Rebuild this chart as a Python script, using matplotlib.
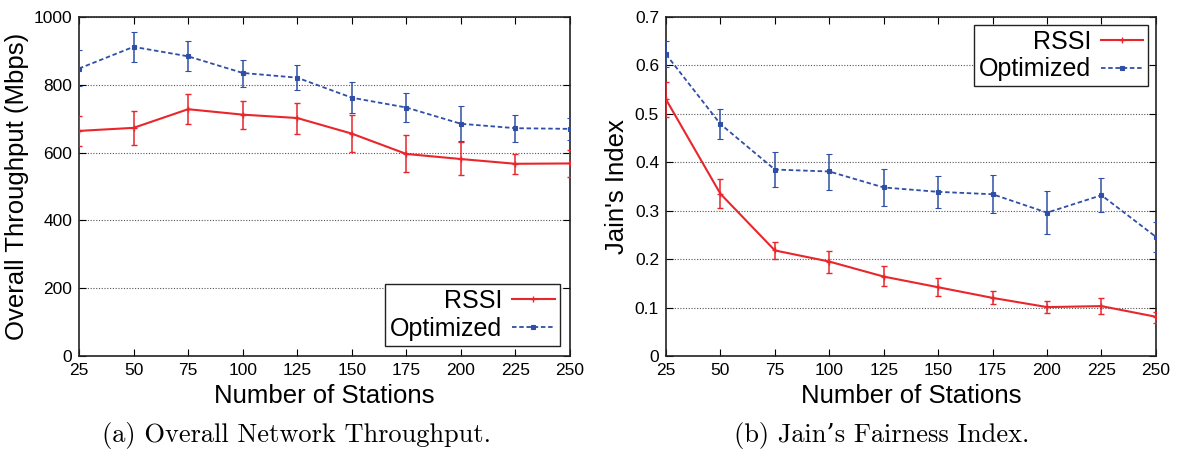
import numpy as np
from matplotlib import pyplot as plt
from matplotlib.lines import Line2D

# number of stations on the x axis
stations = [25, 50, 75, 100, 125, 150, 175, 200, 225, 250]

# (a) overall throughput (Mbps), mean with lower / upper error bar ends
thr_rssi = [664, 673, 728, 712, 702, 656, 596, 581, 567, 568]
thr_rssi_lo = [618, 623, 683, 671, 656, 601, 542, 535, 538, 529]
thr_rssi_hi = [708, 723, 773, 753, 747, 712, 652, 631, 597, 607]
thr_opt = [848, 912, 884, 835, 821, 762, 733, 685, 672, 670]
thr_opt_lo = [795, 867, 840, 794, 785, 716, 690, 633, 632, 638]
thr_opt_hi = [902, 957, 930, 874, 857, 809, 777, 736, 712, 701]

# (b) Jain's fairness index
jfi_rssi = [0.530, 0.335, 0.218, 0.195, 0.164, 0.142, 0.120, 0.101, 0.103, 0.081]
jfi_rssi_lo = [0.493, 0.306, 0.200, 0.171, 0.144, 0.123, 0.107, 0.089, 0.087, 0.069]
jfi_rssi_hi = [0.566, 0.365, 0.236, 0.217, 0.186, 0.162, 0.134, 0.114, 0.120, 0.091]
jfi_opt = [0.623, 0.479, 0.385, 0.381, 0.348, 0.339, 0.334, 0.296, 0.332, 0.246]
jfi_opt_lo = [0.597, 0.449, 0.348, 0.343, 0.310, 0.306, 0.295, 0.251, 0.297, 0.215]
jfi_opt_hi = [0.650, 0.509, 0.421, 0.418, 0.386, 0.372, 0.374, 0.341, 0.368, 0.277]

RED = '#e8262b'
BLUE = '#2f4fa6'

plt.rcParams['font.family'] = ['Liberation Sans', 'DejaVu Sans']

style_r = dict(color=RED, lw=1.5, marker='+', ms=5, mew=1.0)
style_o = dict(color=BLUE, lw=1.3, ls=(0, (2.5, 1.5)), marker='s', ms=3.5, mew=0.8)


def draw(ax, mean_r, lo_r, hi_r, mean_o, lo_o, hi_o):
    x = np.array(stations)
    err_r = [np.array(mean_r) - np.array(lo_r), np.array(hi_r) - np.array(mean_r)]
    err_o = [np.array(mean_o) - np.array(lo_o), np.array(hi_o) - np.array(mean_o)]
    ax.errorbar(x, mean_r, yerr=err_r, elinewidth=1.1, capsize=2.2,
                capthick=1.1, zorder=3, **style_r)
    ax.errorbar(x, mean_o, yerr=err_o, elinewidth=1.1, capsize=2.2,
                capthick=1.1, zorder=3, **style_o)
    ax.set_xlim(25, 250)
    ax.set_xticks(stations)
    ax.grid(axis='y', ls=(0, (1, 1.5)), color='#555555', lw=0.8)
    ax.tick_params(direction='in', top=True, right=True, length=5,
                   labelsize=12.5, pad=5, width=0.8)
    for s in ax.spines.values():
        s.set_linewidth(1.2)
        s.set_color('#222222')
    ax.set_xlabel('Number of Stations', fontsize=18.5, labelpad=4)


def legend(ax, loc, pad):
    handles = [Line2D([], [], **style_r), Line2D([], [], **style_o)]
    leg = ax.legend(handles, ['RSSI', 'Optimized'], loc=loc, markerfirst=False,
                    fontsize=18, handlelength=1.7, handletextpad=0.4,
                    borderpad=0.2, labelspacing=0.15, fancybox=False,
                    framealpha=1, edgecolor='#222222', borderaxespad=pad)
    leg.get_frame().set_linewidth(1.0)
    # gnuplot-style right-aligned keys
    for col in leg._legend_handle_box.get_children():
        col.align = 'right'
    return leg


fig = plt.figure(figsize=(11.77, 4.57), dpi=100)
ax1 = fig.add_axes([0.0671, 0.2210, 0.4172, 0.7418])
ax2 = fig.add_axes([0.5658, 0.2210, 0.4163, 0.7418])

draw(ax1, thr_rssi, thr_rssi_lo, thr_rssi_hi, thr_opt, thr_opt_lo, thr_opt_hi)
ax1.set_ylim(0, 1000)
ax1.set_yticks([0, 200, 400, 600, 800, 1000])
ax1.set_ylabel('Overall Throughput (Mbps)', fontsize=18.5, labelpad=3)
legend(ax1, 'lower right', 0.42)

draw(ax2, jfi_rssi, jfi_rssi_lo, jfi_rssi_hi, jfi_opt, jfi_opt_lo, jfi_opt_hi)
ax2.set_ylim(0, 0.7)
ax2.set_yticks([0, 0.1, 0.2, 0.3, 0.4, 0.5, 0.6, 0.7])
ax2.set_yticklabels(['0', '0.1', '0.2', '0.3', '0.4', '0.5', '0.6', '0.7'])
ax2.set_ylabel("Jain's Index", fontsize=18.5, labelpad=4)
legend(ax2, 'upper right', 0.3)

cap_font = ['cmr10', 'DejaVu Serif']
fig.text(0.2523, 0.046, '(a) Overall Network Throughput.', ha='center',
         va='center', fontsize=19, family=cap_font)
fig.text(0.7494, 0.046, "(b) Jain\u2019s Fairness Index.", ha='center',
         va='center', fontsize=19, family=cap_font)

fig.savefig('out.png', dpi=100)
